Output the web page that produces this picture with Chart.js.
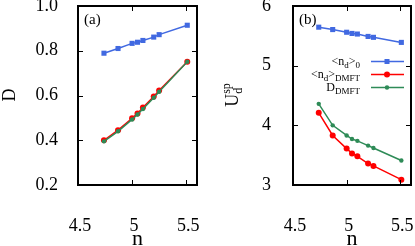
<!DOCTYPE html>
<html>
<head>
<meta charset="utf-8">
<script src="https://cdn.jsdelivr.net/npm/chart.js"></script>
<style>
  html, body { margin: 0; padding: 0; background: #fff; }
  #wrap { position: relative; width: 415px; height: 246px; }
  canvas { position: absolute; top: 0; }
</style>
</head>
<body>
<div id="wrap">
  <canvas id="chartA" width="207" height="246" style="left:0"></canvas>
  <canvas id="chartB" width="208" height="246" style="left:207px"></canvas>
</div>
<script>
// electron count n
const nValues = [4.74, 4.87, 5.0, 5.05, 5.1, 5.2, 5.25, 5.51];
const xTicks = [4.5, 5, 5.5];

// panel (a): D
const dNd0 = [0.789, 0.81, 0.833, 0.838, 0.846, 0.861, 0.872, 0.914];
const dNdDmft = [0.40, 0.445, 0.498, 0.52, 0.546, 0.595, 0.622, 0.751];
const dDmft = [0.395, 0.44, 0.493, 0.515, 0.54, 0.59, 0.617, 0.751];
const yTicksA = [0.2, 0.4, 0.6, 0.8, 1.0];

// panel (b): U_d^sp
const uNd0 = [5.645, 5.605, 5.56, 5.54, 5.53, 5.49, 5.475, 5.39];
const uNdDmft = [4.21, 3.83, 3.61, 3.53, 3.48, 3.36, 3.32, 3.09];
const uDmft = [4.36, 4.0, 3.83, 3.77, 3.74, 3.66, 3.62, 3.41];
const yTicksB = [3, 4, 5, 6];

const BLUE = "#4169e1", RED = "#ff0000", GREEN = "#2e8b57";
const SERIF = '"Liberation Serif", "DejaVu Serif", serif';

function pts(ys) {
    return nValues.map((x, i) => ({ x, y: ys[i] }));
}

// draws a run of text pieces [text, size, dy]
function drawRich(ctx, parts, x, y, align) {
    let w = 0;
    parts.forEach(p => { ctx.font = p[1] + "px " + SERIF; w += ctx.measureText(p[0]).width; });
    let cx = align === "right" ? x - w : align === "center" ? x - w / 2 : x;
    parts.forEach(p => {
        ctx.font = p[1] + "px " + SERIF;
        ctx.fillText(p[0], cx, y + p[2]);
        cx += ctx.measureText(p[0]).width;
    });
}

const framePlugin = {
    id: "frame",
    afterDatasetsDraw(chart, args, opts) {
        const { ctx, chartArea: a, scales } = chart;
        ctx.save();
        ctx.strokeStyle = "#000";
        ctx.lineWidth = 1;
        // inward ticks on all four sides
        ctx.beginPath();
        scales.x.ticks.forEach(t => {
            const px = Math.round(scales.x.getPixelForValue(t.value)) + 0.5;
            if (px <= a.left + 2 || px >= a.right - 2) return;
            ctx.moveTo(px, a.bottom); ctx.lineTo(px, a.bottom - 5);
            ctx.moveTo(px, a.top); ctx.lineTo(px, a.top + 5);
        });
        scales.y.ticks.forEach(t => {
            const py = Math.round(scales.y.getPixelForValue(t.value)) + 0.5;
            if (py <= a.top + 2 || py >= a.bottom - 2) return;
            ctx.moveTo(a.left, py); ctx.lineTo(a.left + 5, py);
            ctx.moveTo(a.right, py); ctx.lineTo(a.right - 5, py);
        });
        ctx.stroke();
        ctx.lineWidth = 2;
        ctx.strokeRect(a.left, a.top, a.right - a.left, a.bottom - a.top);

        ctx.fillStyle = "#000";
        ctx.textBaseline = "alphabetic";
        // panel tag
        drawRich(ctx, [[opts.tag, 15, 0]], a.left + 6, a.top + 18, "left");
        // x title
        drawRich(ctx, [["n", 22, 0]], (a.left + a.right) / 2, 245, "center");
        if (opts.drawExtra) opts.drawExtra(ctx, a);
        ctx.restore();
    }
};

function makeChart(id, datasets, yMin, yMax, yTicks, fmt, leftW, rightPad, yPad, tag, drawExtra) {
    return new Chart(document.getElementById(id), {
        type: "line",
        data: { datasets },
        options: {
            responsive: false,
            animation: false,
            layout: { padding: { top: 6, right: rightPad, left: 0, bottom: 0 } },
            plugins: {
                legend: { display: false },
                tooltip: { enabled: false },
                frame: { tag, drawExtra }
            },
            scales: {
                x: {
                    type: "linear", min: 4.5, max: 5.6,
                    grid: { display: false }, border: { display: false },
                    afterBuildTicks: s => { s.ticks = xTicks.map(v => ({ value: v })); },
                    afterFit: s => { s.height = 61; s.paddingLeft = 0; s.paddingRight = 0; },
                    ticks: { color: "#000", font: { family: SERIF, size: 18 }, padding: 22, labelOffset: 2,
                             maxRotation: 0, callback: v => String(v) }
                },
                y: {
                    min: yMin, max: yMax,
                    grid: { display: false }, border: { display: false },
                    afterBuildTicks: s => { s.ticks = yTicks.map(v => ({ value: v })); },
                    afterFit: s => { s.width = leftW; s.paddingTop = 0; s.paddingBottom = 0; },
                    ticks: { color: "#000", font: { family: SERIF, size: 18 }, padding: yPad, callback: fmt }
                }
            }
        },
        plugins: [framePlugin]
    });
}

function series(data, color, style, radius, order) {
    return {
        data: pts(data), borderColor: color, backgroundColor: color, borderWidth: 1.5,
        pointStyle: style, pointRadius: radius, pointBorderWidth: 0, order, tension: 0
    };
}

makeChart("chartA", [
    series(dNd0, BLUE, "rect", 3.6, 2),
    series(dNdDmft, RED, "circle", 3, 1),
    series(dDmft, GREEN, "circle", 2.2, 0)
], 0.2, 1.0, yTicksA, v => v.toFixed(1), 78, 10, 12, "(a)", (ctx, a) => {
    ctx.save();
    ctx.translate(15, 95);
    ctx.rotate(-Math.PI / 2);
    drawRich(ctx, [["D", 18, 0]], 0, 0, "center");
    ctx.restore();
});

makeChart("chartB", [
    series(uNd0, BLUE, "rect", 3.6, 2),
    series(uNdDmft, RED, "circle", 3, 1),
    series(uDmft, GREEN, "circle", 2.2, 0)
], 3, 6, yTicksB, v => String(v), 86, 3, 14, "(b)", (ctx, a) => {
    // y title U_d^sp
    ctx.save();
    ctx.translate(31, 95);
    ctx.rotate(-Math.PI / 2);
    ctx.font = "18px " + SERIF;
    const uw = ctx.measureText("U").width;
    ctx.font = "12px " + SERIF;
    const sw = ctx.measureText("sp").width;
    const x0 = -(uw + sw) / 2;
    drawRich(ctx, [["U", 18, 0]], x0, 0, "left");
    drawRich(ctx, [["sp", 12, -8]], x0 + uw, 0, "left");
    drawRich(ctx, [["d", 12, 4]], x0 + uw, 0, "left");
    ctx.restore();

    // key
    const rows = [
        { parts: [["<", 12, 0], ["n", 12, 0], ["d", 9, 3], [">", 12, 0], ["0", 9, 3]], color: BLUE, kind: "rect" },
        { parts: [["<", 12, 0], ["n", 12, 0], ["d", 9, 3], [">", 12, 0], ["DMFT", 9, 3]], color: RED, kind: "circle" },
        { parts: [["D", 12, 0], ["DMFT", 9, 3]], color: GREEN, kind: "dot" }
    ];
    rows.forEach((r, i) => {
        const y = 61.5 + i * 13;
        ctx.fillStyle = "#000";
        drawRich(ctx, r.parts, 153, y + 3, "right");
        ctx.strokeStyle = r.color;
        ctx.fillStyle = r.color;
        ctx.lineWidth = 1.5;
        ctx.beginPath(); ctx.moveTo(164, y); ctx.lineTo(197, y); ctx.stroke();
        if (r.kind === "rect") ctx.fillRect(180 - 2.5, y - 2.5, 5, 5);
        else { ctx.beginPath(); ctx.arc(180, y, r.kind === "circle" ? 3 : 2.2, 0, Math.PI * 2); ctx.fill(); }
    });
});
</script>
</body>
</html>
